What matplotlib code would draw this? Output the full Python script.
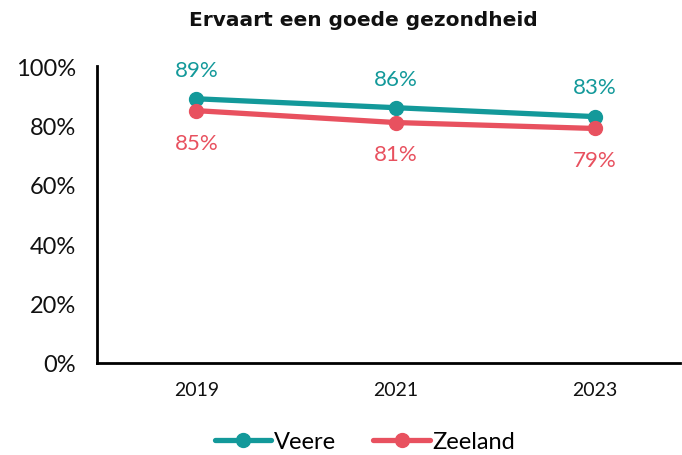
import matplotlib
matplotlib.use("Agg")
import matplotlib.pyplot as plt
from matplotlib.ticker import FuncFormatter

years = ["2019", "2021", "2023"]
veere = [89, 86, 83]
zeeland = [85, 81, 79]

TEAL = "#13999a"
RED = "#e8515f"

plt.rcParams['font.family'] = ['Lato', 'DejaVu Sans']

fig = plt.figure(figsize=(6.82, 4.56), dpi=100)
ax = fig.add_axes([0.1422, 0.2018, 0.855, 0.651])

x = range(len(years))
ax.plot(x, veere, color=TEAL, lw=3.8, marker='o', ms=10, label='Veere', solid_capstyle='round')
ax.plot(x, zeeland, color=RED, lw=3.8, marker='o', ms=10, label='Zeeland', solid_capstyle='round')

for i, v in enumerate(veere):
    ax.annotate(f"{v}%", (i, v), xytext=(0, 21), textcoords='offset points',
                ha='center', va='center', color=TEAL, fontsize=16)
for i, v in enumerate(zeeland):
    ax.annotate(f"{v}%", (i, v), xytext=(0, -23), textcoords='offset points',
                ha='center', va='center', color=RED, fontsize=16)

ax.set_ylim(0, 100)
ax.set_xlim(-0.5, 2.43)
ax.set_yticks(range(0, 101, 20))
ax.yaxis.set_major_formatter(FuncFormatter(lambda v, p: f"{int(v)}%"))
ax.set_xticks(list(x))
ax.set_xticklabels(years)
ax.tick_params(axis='y', length=0, labelsize=17, pad=15, labelcolor='#111111')
ax.tick_params(axis='x', length=0, labelsize=14, pad=13, labelcolor='#111111')

for s in ['top', 'right']:
    ax.spines[s].set_visible(False)
for s in ['left', 'bottom']:
    ax.spines[s].set_linewidth(2)
    ax.spines[s].set_color('black')

fig.text(0.533, 0.955, "Ervaart een goede gezondheid", ha='center', va='center',
         fontsize=14.5, fontweight='bold', color='#111111', family='DejaVu Sans')

fig.legend(loc='center', bbox_to_anchor=(0.535, 0.03), ncol=2, frameon=False,
           fontsize=17, handlelength=2.4, handletextpad=0.1, columnspacing=1.6)

fig.savefig("out.png", dpi=100)
